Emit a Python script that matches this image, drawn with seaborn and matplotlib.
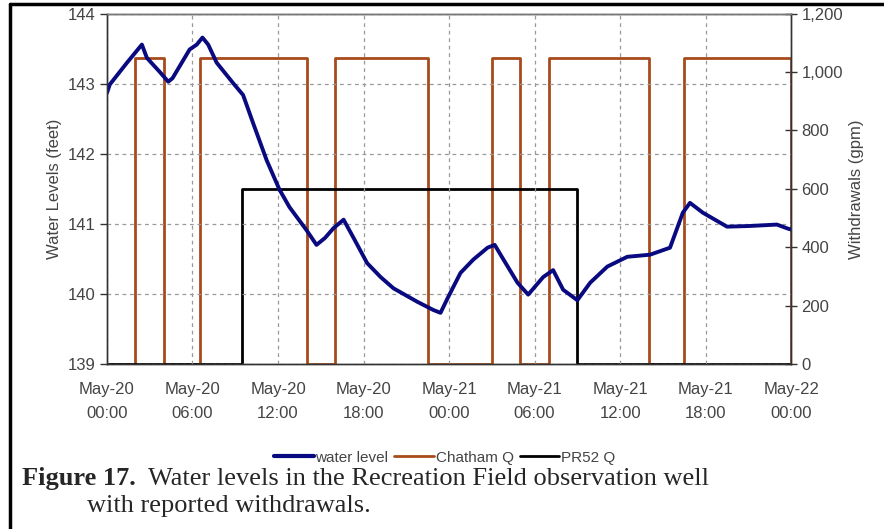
import matplotlib
matplotlib.use("Agg")
import matplotlib.pyplot as plt
import seaborn as sns
import pandas as pd
from matplotlib.lines import Line2D

# ----------------------------------
# Data (hours since May-20 00:00)
# ----------------------------------
level_hours = [0.0, 0.2, 1.4, 2.45, 2.8, 3.7, 4.3, 4.6, 5.8, 6.3, 6.7, 7.1, 7.7,
               8.85, 9.55, 10.25, 11.2, 12.1, 12.8, 14.0, 14.7, 15.3, 15.9, 16.6,
               17.3, 18.25, 19.2, 20.1, 21.75, 22.9, 23.4, 23.9, 24.8, 25.7, 26.7,
               27.2, 27.7, 28.8, 29.55, 30.6, 31.3, 32.0, 33.0, 33.9, 35.1, 36.5,
               38.1, 39.5, 40.4, 40.9, 41.8, 43.5, 45.1, 47.0, 47.8, 48.0]
level_feet = [142.87, 142.99, 143.30, 143.56, 143.37, 143.17, 143.03, 143.08,
              143.49, 143.56, 143.66, 143.56, 143.30, 143.01, 142.84, 142.44,
              141.91, 141.49, 141.24, 140.91, 140.70, 140.80, 140.94, 141.06,
              140.80, 140.44, 140.24, 140.08, 139.89, 139.77, 139.73, 139.94,
              140.30, 140.49, 140.66, 140.70, 140.53, 140.16, 139.99, 140.24,
              140.34, 140.06, 139.91, 140.16, 140.39, 140.53, 140.56, 140.66,
              141.16, 141.30, 141.16, 140.96, 140.97, 140.99, 140.93, 140.92]

chatham_hours = [0, 2, 4, 6.5, 14, 16, 22.5, 27, 29, 31, 38, 40.5, 48, 48]
chatham_gpm = [0, 1050, 0, 1050, 0, 1050, 0, 1050, 0, 1050, 0, 1050, 1050, 0]

pr52_hours = [0, 9.5, 33, 48]
pr52_gpm = [0, 600, 0, 0]

tick_hours = [0, 6, 12, 18, 24, 30, 36, 42, 48]
tick_labels = ["May-20\n00:00", "May-20\n06:00", "May-20\n12:00", "May-20\n18:00",
               "May-21\n00:00", "May-21\n06:00", "May-21\n12:00", "May-21\n18:00",
               "May-22\n00:00"]

level_df = pd.DataFrame({"hour": level_hours, "level": level_feet})
chatham_df = pd.DataFrame({"hour": chatham_hours, "q": chatham_gpm})
pr52_df = pd.DataFrame({"hour": pr52_hours, "q": pr52_gpm})

NAVY = "#0a0a80"
BROWN = "#a84b1c"
TXT = "#444444"

sns.set_style("white")
plt.rcParams["font.family"] = ["Liberation Sans", "DejaVu Sans"]

fig = plt.figure(figsize=(8.84, 5.29), dpi=100)
ax = fig.add_axes([0.121, 0.312, 0.774, 0.662])
ax2 = ax.twinx()

# withdrawals on the right axis
sns.lineplot(data=chatham_df, x="hour", y="q", ax=ax2, color=BROWN, lw=2,
             drawstyle="steps-post", sort=False, estimator=None)
sns.lineplot(data=pr52_df, x="hour", y="q", ax=ax2, color="black", lw=2,
             drawstyle="steps-post", sort=False, estimator=None)

# water level on the left axis, drawn on top
ax.set_zorder(ax2.get_zorder() + 1)
ax.patch.set_visible(False)
sns.lineplot(data=level_df, x="hour", y="level", ax=ax, color=NAVY, lw=2.8,
             sort=False, estimator=None)

# ----------------------------------
# Axes formatting
# ----------------------------------
ax.set_xlim(0, 48)
ax.set_ylim(139, 144)
ax2.set_ylim(0, 1200)
ax.set_xticks(tick_hours)
ax.set_xticklabels(tick_labels, linespacing=1.75)
ax.set_yticks([139, 140, 141, 142, 143, 144])
ax2.set_yticks([0, 200, 400, 600, 800, 1000, 1200])
ax2.set_yticklabels(["0", "200", "400", "600", "800", "1,000", "1,200"])

for a in (ax, ax2):
    a.tick_params(labelsize=12, labelcolor=TXT, color="#333333", length=5, width=1)
ax.tick_params(axis="x", direction="out", pad=8)
ax2.tick_params(axis="y", direction="inout", length=8)

ax.grid(True, color="#999999", ls=(0, (3, 3)), lw=0.9)
ax.set_xlabel("")
ax.set_ylabel("Water Levels (feet)", fontsize=12, color=TXT, labelpad=4)
ax2.set_ylabel("Withdrawals (gpm)", fontsize=12, color=TXT, labelpad=4)

for a in (ax, ax2):
    for s in a.spines.values():
        s.set_color("#333333")
        s.set_linewidth(1)
ax.spines["top"].set_color("#777777")

# legend under the chart
handles = [Line2D([], [], color=NAVY, lw=3),
           Line2D([], [], color=BROWN, lw=2),
           Line2D([], [], color="black", lw=2)]
fig.legend(handles, ["water level", "Chatham Q", "PR52 Q"], loc="center",
           bbox_to_anchor=(0.503, 0.135), ncol=3, frameon=False, fontsize=11,
           handlelength=2.6, handletextpad=0.1, columnspacing=0.4,
           labelcolor=TXT)

# caption
fig.text(0.025, 0.095, "Figure 17.", fontsize=19, fontweight="bold",
         family="Liberation Serif", va="center")
fig.text(0.167, 0.095, "Water levels in the Recreation Field observation well",
         fontsize=19, family="Liberation Serif", va="center")
fig.text(0.098, 0.043, "with reported withdrawals.", fontsize=19,
         family="Liberation Serif", va="center")

# outer frame
fig.add_artist(Line2D([0.011, 0.011], [0, 0.993], color="black", lw=2.5,
                      transform=fig.transFigure))
fig.add_artist(Line2D([0.011, 1], [0.993, 0.993], color="black", lw=2.5,
                      transform=fig.transFigure))

fig.savefig("out.png", dpi=100)
